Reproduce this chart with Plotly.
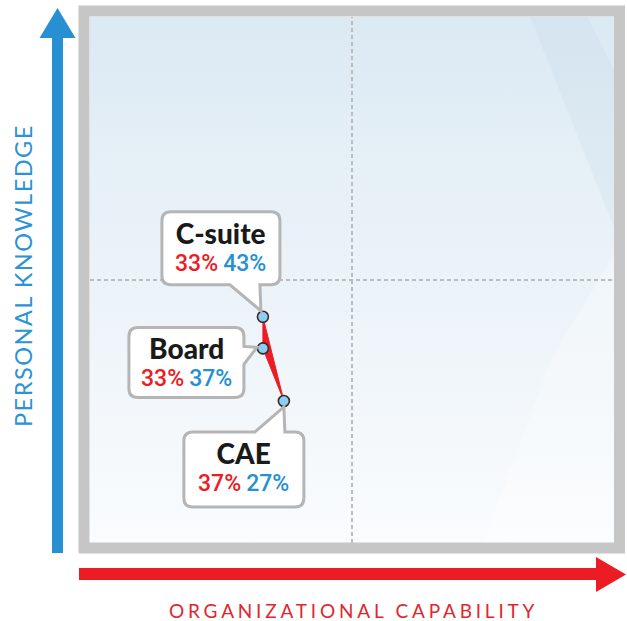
import plotly.graph_objects as go

# ---- data ----
groups = ["C-suite", "Board", "CAE"]
org_capability = [33, 33, 37]        # red, x axis (%)
personal_knowledge = [43, 37, 27]    # blue, y axis (%)
x_title = "ORGANIZATIONAL CAPABILITY"
y_title = "PERSONAL KNOWLEDGE"

RED = "#ec1c24"
BLUE = "#2790d3"
GRAY = "#c6c6c6"

W, H = 627, 621
L, R, T, B = 90, 13, 17, 78
PW, PH = W - L - R, H - T - B


def px2x(px):
    return (px - L) / PW


def px2y(py):
    return (H - B - py) / PH


def pxoff2data(xv, yv, dx, dy):
    return xv + dx / PW * 100, yv - dy / PH * 100


# callout styles: box offsets (px, relative to point), tail spec, text block centre
callout_style = {
    "C-suite": dict(box=(-101, -105, 17, -32), side="bottom", base=(-33, -3), tip=(-2, -6),
                    text=(-42, -70)),
    "Board": dict(box=(-134, -21, -19, 49), side="right", base=(-2, 16), tip=(-6, -1),
                  text=(-76, 13)),
    "CAE": dict(box=(-100, 31, 20, 106), side="top", base=(-29, 1), tip=(0, 6),
                text=(-40, 66)),
}


def callout_path(xv, yv, st, r=9):
    x0, y0, x1, y1 = st["box"]
    pts = []

    def P(cmd, *pairs):
        s = cmd
        for (dx, dy) in pairs:
            a, b = pxoff2data(xv, yv, dx, dy)
            s += f" {a:.4f},{b:.4f}"
        pts.append(s)

    P("M", (x0 + r, y0))
    if st["side"] == "top":
        P("L", (st["base"][0], y0))
        P("L", st["tip"])
        P("L", (st["base"][1], y0))
    P("L", (x1 - r, y0))
    P("Q", (x1, y0), (x1, y0 + r))
    if st["side"] == "right":
        P("L", (x1, st["base"][0]))
        P("L", st["tip"])
        P("L", (x1, st["base"][1]))
    P("L", (x1, y1 - r))
    P("Q", (x1, y1), (x1 - r, y1))
    if st["side"] == "bottom":
        P("L", (st["base"][1], y1))
        P("L", st["tip"])
        P("L", (st["base"][0], y1))
    P("L", (x0 + r, y1))
    P("Q", (x0, y1), (x0, y1 - r))
    P("L", (x0, y0 + r))
    P("Q", (x0, y0), (x0 + r, y0))
    return " ".join(pts) + " Z"


fig = go.Figure()

# background gradient
fig.add_trace(go.Scatter(
    x=[0, 100, 100, 0, 0], y=[0, 0, 100, 100, 0], mode="lines", fill="toself",
    line=dict(width=0), hoverinfo="skip", showlegend=False,
    fillgradient=dict(type="vertical", start=0, stop=100,
                      colorscale=[[0, "#fafcfe"], [0.3, "#f1f6fa"], [0.7, "#e6f0f7"], [1, "#dbe9f3"]]),
))
# faint facets on the right side
fig.add_trace(go.Scatter(
    x=[84, 95, 100, 100, 84], y=[100, 100, 90, 60, 100], mode="lines", fill="toself",
    line=dict(width=0), fillcolor="rgba(190,210,225,0.18)", hoverinfo="skip", showlegend=False))
fig.add_trace(go.Scatter(
    x=[75, 100, 100, 88, 75], y=[0, 0, 55, 35, 0], mode="lines", fill="toself",
    line=dict(width=0), fillcolor="rgba(255,255,255,0.25)", hoverinfo="skip", showlegend=False))

# quadrant dividers
fig.add_trace(go.Scatter(x=[50, 50], y=[0, 100], mode="lines",
                         line=dict(color="#bcbcbc", width=2, dash="4px,3px"),
                         hoverinfo="skip", showlegend=False))
fig.add_trace(go.Scatter(x=[0, 100], y=[50, 50], mode="lines",
                         line=dict(color="#bcbcbc", width=2, dash="4px,3px"),
                         hoverinfo="skip", showlegend=False))

# red connecting triangle
fig.add_trace(go.Scatter(
    x=org_capability + [org_capability[0]], y=personal_knowledge + [personal_knowledge[0]],
    mode="lines", fill="toself", fillcolor=RED, line=dict(color=RED, width=1),
    hoverinfo="skip", showlegend=False))

# points
fig.add_trace(go.Scatter(
    x=org_capability, y=personal_knowledge, mode="markers", text=groups,
    marker=dict(size=11, color="#8bd0f3", line=dict(color="#3a2727", width=1.6)),
    showlegend=False))

shapes = []
annotations = []
for g, xv, yv in zip(groups, org_capability, personal_knowledge):
    st = callout_style[g]
    shapes.append(dict(type="path", xref="x", yref="y", layer="above",
                       path=callout_path(xv, yv, st),
                       fillcolor="white", line=dict(color="#b5b5b5", width=3)))
    label = (f"<span style='font-family:Lato;font-size:28px;font-weight:900;color:#1a1a1a'>{g}</span><br>"
             f"<span style='color:{RED};font-size:23px'>{xv}%</span> "
             f"<span style='color:{BLUE};font-size:23px'>{yv}%</span>")
    annotations.append(dict(x=xv, y=yv, xref="x", yref="y", showarrow=False,
                            xanchor="center", yanchor="middle",
                            xshift=st["text"][0], yshift=-st["text"][1],
                            text=label, borderpad=0,
                            font=dict(family="Roboto", size=20.5, weight=500, color="#1a1a1a")))

# frame
shapes.append(dict(type="rect", xref="paper", yref="paper", layer="above",
                   x0=px2x(84), x1=px2x(619.5), y0=px2y(548), y1=px2y(11),
                   line=dict(color=GRAY, width=11), fillcolor="rgba(0,0,0,0)"))

# blue vertical arrow
shapes.append(dict(type="rect", xref="paper", yref="paper", layer="above",
                   x0=px2x(52), x1=px2x(63), y0=px2y(553), y1=px2y(36),
                   line=dict(width=0), fillcolor=BLUE))
shapes.append(dict(type="path", xref="paper", yref="paper", layer="above",
                   path=f"M {px2x(39.5)},{px2y(38)} L {px2x(57.5)},{px2y(8)} L {px2x(75.5)},{px2y(38)} Z",
                   line=dict(width=0), fillcolor=BLUE))
# red horizontal arrow
shapes.append(dict(type="rect", xref="paper", yref="paper", layer="above",
                   x0=px2x(79), x1=px2x(598), y0=px2y(580), y1=px2y(568),
                   line=dict(width=0), fillcolor=RED))
shapes.append(dict(type="path", xref="paper", yref="paper", layer="above",
                   path=f"M {px2x(596)},{px2y(557)} L {px2x(626)},{px2y(574.5)} L {px2x(596)},{px2y(592)} Z",
                   line=dict(width=0), fillcolor=RED))

annotations.append(dict(x=px2x(23), y=px2y(276), xref="paper", yref="paper", showarrow=False,
                        xanchor="center", yanchor="middle",
                        text=f"<span style='letter-spacing:1.5px'>{y_title}</span>", textangle=-90,
                        font=dict(family="Lato", size=23.5, color="#2b93d6")))
annotations.append(dict(x=px2x(353), y=px2y(610), xref="paper", yref="paper", showarrow=False,
                        xanchor="center", yanchor="middle",
                        text=f"<span style='letter-spacing:3.8px'>{x_title}</span>",
                        font=dict(family="Lato", size=19, color="#e0262e")))

fig.update_layout(
    width=W, height=H, margin=dict(l=L, r=R, t=T, b=B),
    paper_bgcolor="white", plot_bgcolor="white",
    xaxis=dict(range=[0, 100], visible=False, fixedrange=True),
    yaxis=dict(range=[0, 100], visible=False, fixedrange=True),
    shapes=shapes, annotations=annotations, showlegend=False,
)

fig.write_html("out.html", config={"displayModeBar": False},
               post_script="document.body.style.margin='0';document.body.style.overflow='hidden';")
